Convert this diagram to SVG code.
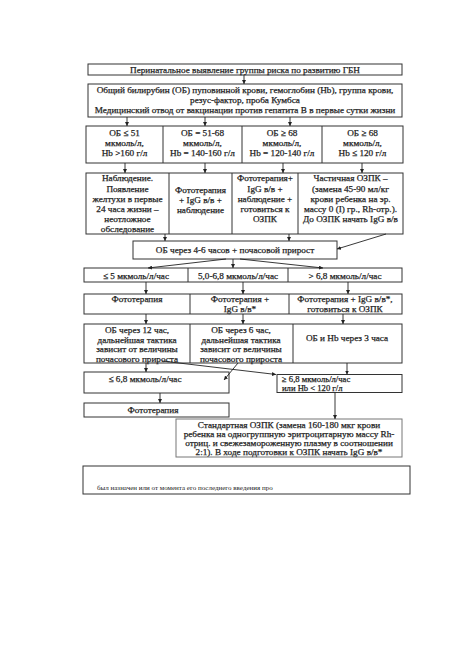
<svg xmlns="http://www.w3.org/2000/svg" width="459" height="650" viewBox="0 0 459 650">
<defs>
<marker id="ah" viewBox="0 0 6 6" refX="6" refY="3" markerWidth="4" markerHeight="4" orient="auto" markerUnits="userSpaceOnUse">
<path d="M0,0 L6,3 L0,6 z" fill="#222"/>
</marker>
<style>
.b{fill:#fff;stroke:#333;stroke-width:1}
.t{font-family:"Liberation Serif","DejaVu Serif",serif;font-size:9.2px;fill:#222;stroke:#222;stroke-width:0.25;text-anchor:middle}
.c line{stroke:#222;stroke-width:0.9;marker-end:url(#ah)}
.d{stroke:#333;stroke-width:1}
.n{font-family:"Liberation Serif",serif;font-size:7px;fill:#222}
</style>
</defs>
<rect width="459" height="650" fill="#fff"/>
<g id="title"><rect class="b" x="88" y="64" width="314" height="11"/><text class="t" x="245" y="72.5">Перинатальное выявление группы риска по развитию ГБН</text></g>
<g id="box2"><rect class="b" x="88" y="84" width="314" height="33"/>
<text class="t" x="245" y="93">Общий билирубин (ОБ) пуповинной крови, гемоглобин (Hb), группа крови,</text>
<text class="t" x="245" y="103">резус-фактор, проба Кумбса</text>
<text class="t" x="245" y="113">Медицинский отвод от вакцинации против гепатита В в первые сутки жизни</text></g>
<g id="row4"><rect class="b" x="86" y="126" width="317" height="37"/>
<line class="d" x1="163" y1="126" x2="163" y2="163"/><line class="d" x1="242" y1="126" x2="242" y2="163"/><line class="d" x1="322" y1="126" x2="322" y2="163"/>
<g id="r4c1"><text class="t" x="124.5" y="136">ОБ ≤ 51</text><text class="t" x="124.5" y="146">мкмоль/л,</text><text class="t" x="124.5" y="156">Hb &gt;160 г/л</text></g>
<g id="r4c2"><text class="t" x="202.5" y="136">ОБ = 51-68</text><text class="t" x="202.5" y="146">мкмоль/л,</text><text class="t" x="202.5" y="156">Hb = 140-160 г/л</text></g>
<g id="r4c3"><text class="t" x="282" y="136">ОБ ≥ 68</text><text class="t" x="282" y="146">мкмоль/л,</text><text class="t" x="282" y="156">Hb = 120-140 г/л</text></g>
<g id="r4c4"><text class="t" x="362.5" y="136">ОБ ≥ 68</text><text class="t" x="362.5" y="146">мкмоль/л,</text><text class="t" x="362.5" y="156">Hb ≤ 120 г/л</text></g></g>
<g id="row5"><rect class="b" x="86" y="173" width="317" height="61"/>
<line class="d" x1="169" y1="173" x2="169" y2="234"/><line class="d" x1="232" y1="173" x2="232" y2="234"/><line class="d" x1="298" y1="173" x2="298" y2="234"/>
<g id="r5c1"><text class="t" x="127.5" y="181">Наблюдение.</text><text class="t" x="127.5" y="191.5">Появление</text><text class="t" x="127.5" y="202">желтухи в первые</text><text class="t" x="127.5" y="212">24 часа жизни –</text><text class="t" x="127.5" y="222">неотложное</text><text class="t" x="127.5" y="232">обследование</text></g>
<g id="r5c2"><text class="t" x="200.5" y="193">Фототерапия</text><text class="t" x="200.5" y="203">+ IgG в/в +</text><text class="t" x="200.5" y="212.5">наблюдение</text></g>
<g id="r5c3"><text class="t" x="265" y="181">Фототерапия+</text><text class="t" x="265" y="191.5">IgG в/в +</text><text class="t" x="265" y="202">наблюдение +</text><text class="t" x="265" y="212">готовиться к</text><text class="t" x="265" y="222">ОЗПК</text></g>
<g id="r5c4"><text class="t" x="350.5" y="181">Частичная ОЗПК –</text><text class="t" x="350.5" y="191.5">(замена 45-90 мл/кг</text><text class="t" x="350.5" y="202">крови ребенка на эр.</text><text class="t" x="350.5" y="212">массу 0 (I) гр., Rh-отр.).</text><text class="t" x="350.5" y="222">До ОЗПК начать IgG в/в</text></g></g>
<g id="ob46"><rect class="b" x="133" y="241" width="204" height="18"/><text class="t" x="235" y="253">ОБ через 4-6 часов + почасовой прирост</text></g>
<g id="row7"><rect class="b" x="84" y="268" width="318" height="14"/>
<line class="d" x1="188" y1="268" x2="188" y2="282"/><line class="d" x1="288" y1="268" x2="288" y2="282"/>
<text class="t" x="136" y="278.5">≤ 5 мкмоль/л/час</text><text class="t" x="238" y="278.5">5,0-6,8 мкмоль/л/час</text><text class="t" x="345" y="278.5">&gt; 6,8 мкмоль/л/час</text></g>
<g id="row8"><rect class="b" x="84" y="294" width="318" height="20"/>
<line class="d" x1="190" y1="294" x2="190" y2="314"/><line class="d" x1="289" y1="294" x2="289" y2="314"/>
<text class="t" x="137" y="301.5">Фототерапия</text>
<text class="t" x="240" y="301.5">Фототерапия +</text><text class="t" x="240" y="311.5">IgG в/в*</text>
<text class="t" x="345" y="301.5">Фототерапия + IgG в/в*,</text><text class="t" x="345" y="311.5">готовиться к ОЗПК</text></g>
<g id="row9"><rect class="b" x="84" y="324" width="318" height="39"/>
<line class="d" x1="190" y1="324" x2="190" y2="363"/><line class="d" x1="293" y1="324" x2="293" y2="363"/>
<text class="t" x="137" y="333">ОБ через 12 час,</text><text class="t" x="137" y="342.5">дальнейшая тактика</text><text class="t" x="137" y="352">зависит от величины</text><text class="t" x="137" y="361.5">почасового прироста</text>
<text class="t" x="241" y="333">ОБ через 6 час,</text><text class="t" x="241" y="342.5">дальнейшая тактика</text><text class="t" x="241" y="352">зависит от величины</text><text class="t" x="241" y="361.5">почасового прироста</text>
<text class="t" x="347" y="341">ОБ  и Hb через 3 часа</text></g>
<g id="le68"><rect class="b" x="84" y="372" width="145" height="21"/><text class="t" x="145" y="381.5">≤ 6,8 мкмоль/л/час</text></g>
<g id="ge68"><rect class="b" x="277" y="374.5" width="125" height="18"/><text class="t" x="282" y="382" style="text-anchor:start;font-size:8.6px">≥ 6,8 мкмоль/л/час</text><text class="t" x="282" y="391" style="text-anchor:start;font-size:8.6px">или  Hb &lt; 120 г/л</text></g>
<g id="foto2"><rect class="b" x="84" y="403" width="145" height="14"/><text class="t" x="153" y="413">Фототерапия</text></g>
<g id="std"><rect class="b" x="176" y="419" width="226" height="38" style="stroke:#777"/>
<text class="t" x="289" y="427.5">Стандартная ОЗПК (замена 160-180 мкг крови</text>
<text class="t" x="289" y="436.5">ребенка на одногруппную эритроцитарную массу Rh-</text>
<text class="t" x="289" y="445.5">отриц. и  свежезамороженную плазму в соотношении</text>
<text class="t" x="289" y="454.5">2:1). В ходе подготовки к ОЗПК начать IgG в/в*</text></g>
<g id="note"><rect class="b" x="83" y="466" width="327" height="28"/><text class="n" x="97" y="490">был назначен или от момента его последнего введения про</text></g>
<g class="c" id="connectors">
<line x1="244" y1="75" x2="244" y2="84"/>
<line x1="127" y1="117" x2="127" y2="126"/>
<line x1="205" y1="117" x2="205" y2="126"/>
<line x1="290" y1="117" x2="290" y2="126"/>
<line x1="125" y1="163" x2="125" y2="173"/>
<line x1="205" y1="163" x2="205" y2="173"/>
<line x1="283" y1="163" x2="283" y2="173"/>
<line x1="362" y1="163" x2="362" y2="173"/>
<line x1="165" y1="234" x2="165" y2="241"/>
<line x1="289" y1="234" x2="289" y2="241"/>
<line x1="386" y1="234" x2="337" y2="249"/>
<line x1="233" y1="259" x2="233" y2="268"/>
<line x1="226" y1="259" x2="148" y2="268"/>
<line x1="240" y1="259" x2="323" y2="268"/>
<line x1="146" y1="282" x2="146" y2="294"/>
<line x1="243" y1="282" x2="243" y2="294"/>
<line x1="348" y1="282" x2="348" y2="294"/>
<line x1="146" y1="314" x2="146" y2="324"/>
<line x1="243" y1="314" x2="243" y2="324"/>
<line x1="343" y1="314" x2="343" y2="324"/>
<line x1="146" y1="363" x2="146" y2="372"/>
<line x1="238" y1="363" x2="224" y2="380"/>
<line x1="162" y1="361" x2="276" y2="374.5"/>
<line x1="347" y1="363" x2="347" y2="374.5"/>
<line x1="160" y1="393" x2="160" y2="403"/>
<line x1="335" y1="392.5" x2="335" y2="419"/>
</g>
</svg>
